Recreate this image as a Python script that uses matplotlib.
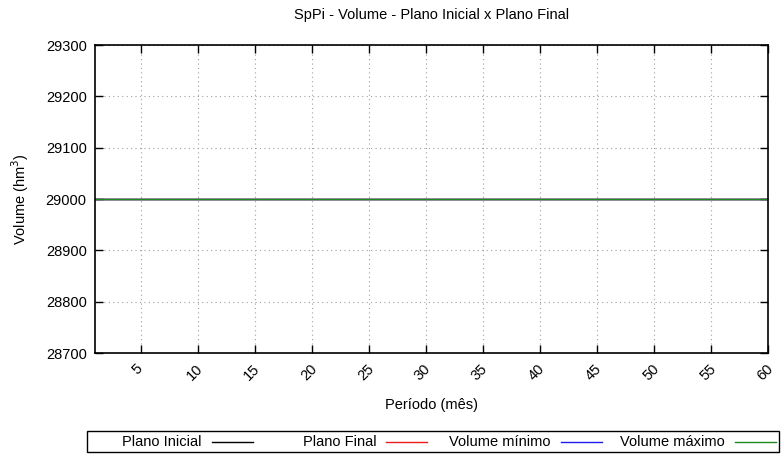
import numpy as np
import matplotlib
matplotlib.use("Agg")
import matplotlib.pyplot as plt
from matplotlib.lines import Line2D
from matplotlib.patches import Rectangle
from matplotlib.transforms import ScaledTranslation

plt.rcParams['font.family'] = ['Liberation Sans', 'DejaVu Sans']

# dados
periodos = list(range(1, 61))
plano_inicial = [29000] * 60
plano_final = [29000] * 60
volume_minimo = [29000] * 60
volume_maximo = [29000] * 60
xticks = [5, 10, 15, 20, 25, 30, 35, 40, 45, 50, 55, 60]
yticks = [28700, 28800, 28900, 29000, 29100, 29200, 29300]
nomes = ["Plano Inicial", "Plano Final", "Volume mínimo", "Volume máximo"]
cores = ["black", "#ee1c1c", "#1c1cee", "#1c8a1c"]

W, H = 783, 465
fig = plt.figure(figsize=(W / 100, H / 100), dpi=100)
ax = fig.add_axes([95 / W, 1 - 353 / H, (768 - 95) / W, (353 - 45) / H])

for serie, nome, cor in zip([plano_inicial, plano_final, volume_minimo, volume_maximo], nomes, cores):
    ax.plot(periodos, serie, color=cor, lw=1, label=nome)

ax.set_xlim(1, 60)
ax.set_ylim(28700, 29300)
ax.set_xticks(xticks)
ax.set_yticks(yticks)
ax.set_xticklabels([str(t) for t in xticks], rotation=45, ha="center", va="top")
ax.tick_params(direction="in", top=True, right=True, labelsize=10.5, length=6, width=1)
ax.tick_params(axis="x", pad=6)
ax.tick_params(axis="y", pad=6)
off = ScaledTranslation(-3 / 100, 0, fig.dpi_scale_trans)
for lab in ax.get_xticklabels():
    lab.set_transform(lab.get_transform() + off)
for s in ax.spines.values():
    s.set_linewidth(1.2)
ax.grid(True, linestyle=(0, (1, 3)), color="#a0a0a0", lw=0.8)

ax.text(0.5, (353 - 15) / 308, "SpPi - Volume - Plano Inicial x Plano Final",
        transform=ax.transAxes, ha="center", va="center", fontsize=10.5)
ax.set_xlabel("Período (mês)", fontsize=10.5, va="center")
ax.xaxis.set_label_coords(0.5, (353 - 405) / 308)
ax.set_ylabel("Volume (hm$^3$)", fontsize=10.5, va="center")
ax.yaxis.set_label_coords((20 - 95) / 673, 0.5)

# legenda estilo gnuplot
fig.add_artist(Rectangle((87 / W, 1 - 452 / H), (779 - 87) / W, (452 - 431) / H,
                         transform=fig.transFigure, fill=False, edgecolor="black", lw=1))
ly = 1 - 442 / H
for i, (nome, cor) in enumerate(zip(nomes, cores)):
    fim = 253 + i * 174.3
    fig.text((fim - 51) / W, ly, nome, ha="right", va="center", fontsize=10.5)
    fig.add_artist(Line2D([(fim - 41) / W, fim / W], [ly, ly], color=cor, lw=1,
                          transform=fig.transFigure))

fig.savefig("out.png", dpi=100)
